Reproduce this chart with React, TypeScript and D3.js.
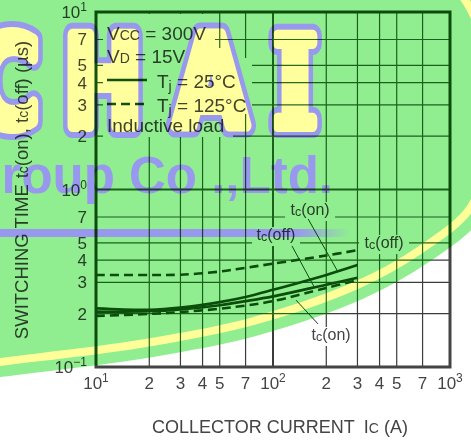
import React from "react";
import * as d3 from "d3";

// ---------- data ----------
const current = [10, 20, 30, 50, 70, 100, 200, 300];
const tcOn25 = [0.214, 0.21, 0.216, 0.232, 0.248, 0.272, 0.33, 0.375];
const tcOff25 = [0.205, 0.206, 0.211, 0.223, 0.235, 0.25, 0.291, 0.318];
const tcOn125 = [0.194, 0.199, 0.204, 0.213, 0.222, 0.235, 0.279, 0.309];
const tcOff125 = [0.33, 0.33, 0.331, 0.345, 0.362, 0.382, 0.425, 0.455];

const xDecades = [10, 100, 1000];
const xDecadeExp = ["1", "2", "3"];
const yDecades = [0.1, 1, 10];
const yDecadeExp = ["\u22121", "0", "1"];
const minorMultipliers = [2, 3, 4, 5, 7];

const W = 471;
const H = 443;
const L = 96, R = 450, T = 12, B = 367;

const x = d3.scaleLog().domain([10, 1000]).range([L, R]);
const y = d3.scaleLog().domain([0.1, 10]).range([B, T]);

const TEXT = "#444";
const FONT = "'Liberation Sans', Arial, sans-serif";

const mkLine = (vals: number[]) =>
  d3
    .line<number>()
    .x((_, i) => x(current[i]))
    .y((d) => y(d))
    .curve(d3.curveCatmullRom.alpha(0.5))(vals) as string;

// annotation positions in data space [Ic, t]
const labels = [
  { sub: "on", at: [162, 0.718], w: 50, leader: [[158, 0.682], [233, 0.343]] },
  { sub: "off", at: [104, 0.519], w: 48, leader: [[128, 0.481], [171, 0.282]] },
  { sub: "off", at: [424, 0.468], w: 50, leader: null },
  { sub: "on", at: [213, 0.142], w: 44, leader: [[179.5, 0.175], [135, 0.238]] },
];

// watermark band edge
const edgePts: [number, number][] = [
  [-30, 366], [0, 362], [120, 347], [180, 337], [250, 322], [357, 285],
  [420, 250], [471, 207], [488, 150], [490, 70], [470, 8], [440, -30],
];

const vGrid: number[] = [];
xDecades.slice(0, 2).forEach((d) => minorMultipliers.forEach((m) => vGrid.push(d * m)));
const hGrid: number[] = [];
yDecades.slice(0, 2).forEach((d) => minorMultipliers.forEach((m) => hGrid.push(d * m)));

type Ink = { grid: string; line: string; frame: string };
const GRAY: Ink = { grid: "#3c3c3c", line: "#2a2a2a", frame: "#444" };
const GREEN: Ink = { grid: "#2e682e", line: "#135213", frame: "#145214" };

function ChartLines({ ink }: { ink: Ink }) {
  return (
    <g>
      <rect x={0} y={0} width={W} height={H} fill="#fff" />
      {vGrid.map((v) => (
        <line key={"v" + v} x1={x(v)} x2={x(v)} y1={T} y2={B} stroke={ink.grid} strokeWidth={1.2} />
      ))}
      <line x1={x(100)} x2={x(100)} y1={T} y2={B} stroke={ink.grid} strokeWidth={2} />
      {hGrid.map((v) => (
        <line key={"h" + v} x1={L} x2={R} y1={y(v)} y2={y(v)} stroke={ink.grid} strokeWidth={1.2} />
      ))}
      <line x1={L} x2={R} y1={y(1)} y2={y(1)} stroke={ink.grid} strokeWidth={2} />

      {/* legend masks */}
      <rect x={103} y={14} width={112} height={123} fill="#fff" />
      <rect x={215} y={48} width={18} height={89} fill="#fff" />
      <rect x={233} y={58} width={19} height={56} fill="#fff" />

      {/* label masks */}
      {labels.map((lb, i) => (
        <rect
          key={"m" + i}
          x={x(lb.at[0]) - lb.w / 2}
          y={y(lb.at[1]) - 13}
          width={lb.w}
          height={19}
          fill="#fff"
        />
      ))}

      <rect x={L} y={T} width={R - L} height={B - T} fill="none" stroke={ink.frame} strokeWidth={3} />

      <path d={mkLine(tcOn25)} fill="none" stroke={ink.line} strokeWidth={2.6} />
      <path d={mkLine(tcOff25)} fill="none" stroke={ink.line} strokeWidth={2.6} />
      <path d={mkLine(tcOn125)} fill="none" stroke={ink.line} strokeWidth={2.6} strokeDasharray="9,5" />
      <path d={mkLine(tcOff125)} fill="none" stroke={ink.line} strokeWidth={2.6} strokeDasharray="9,5" />

      {labels.map((lb, i) =>
        lb.leader ? (
          <line
            key={"ld" + i}
            x1={x(lb.leader[0][0])}
            y1={y(lb.leader[0][1])}
            x2={x(lb.leader[1][0])}
            y2={y(lb.leader[1][1])}
            stroke={ink.line}
            strokeWidth={1}
          />
        ) : null
      )}

      <line x1={107} x2={147} y1={80} y2={80} stroke={ink.line} strokeWidth={2.6} />
      <line x1={107} x2={147} y1={104} y2={104} stroke={ink.line} strokeWidth={2.6} strokeDasharray="9,5" />
    </g>
  );
}

function TcText({ px, py, sub, size = 16 }: { px: number; py: number; sub: string; size?: number }) {
  return (
    <text x={px} y={py} textAnchor="middle" fontSize={size} fill={TEXT}>
      t<tspan fontSize={size * 0.78} dy={1}>c</tspan>
      <tspan dy={-1}>({sub})</tspan>
    </text>
  );
}

export default function App() {
  const edge = d3.line().curve(d3.curveCatmullRom)(edgePts) as string;
  const region = edge + "L-30,-30Z";

  const letters = [
    { ch: "C", cx: 5, fam: "'DejaVu Sans', sans-serif" },
    { ch: "H", cx: 103, fam: "'DejaVu Sans', sans-serif" },
    { ch: "A", cx: 211, fam: "'DejaVu Sans', sans-serif" },
    { ch: "I", cx: 295, fam: "'DejaVu Serif', serif" },
  ];
  const BLUE = "#9898ee";
  const YEL = "#ffff9e";

  return (
    <svg
      width={W}
      height={H}
      style={{ position: "absolute", left: 0, top: 0, fontFamily: FONT }}
    >
      <defs>
        <linearGradient id="barFade" x1="0" x2="1" y1="0" y2="0">
          <stop offset="0.85" stopColor={BLUE} stopOpacity={1} />
          <stop offset="1" stopColor={BLUE} stopOpacity={0} />
        </linearGradient>
        <mask id="insideMask" maskUnits="userSpaceOnUse" x={0} y={0} width={W} height={H}>
          <rect x={0} y={0} width={W} height={H} fill="black" />
          <path d={region} fill="white" stroke="white" strokeWidth={30} strokeLinejoin="round" />
        </mask>
      </defs>

      {/* ---------- chart layer ---------- */}
      <ChartLines ink={GRAY} />
      <g mask="url(#insideMask)">
        <ChartLines ink={GREEN} />
      </g>

      {/* curve labels */}
      {labels.map((lb, i) => (
        <TcText key={"l" + i} px={x(lb.at[0])} py={y(lb.at[1])} sub={lb.sub} />
      ))}

      {/* legend */}
      <g fontSize={19} fill={TEXT}>
        <text x={107} y={40}>
          V<tspan fontSize={14}>CC</tspan> = 300V
        </text>
        <text x={107} y={63}>
          V<tspan fontSize={14}>D</tspan> = 15V
        </text>
        <text x={157} y={88}>
          T<tspan fontSize={14} dy={3}>j</tspan>
          <tspan dy={-3}> = 25°C</tspan>
        </text>
        <text x={157} y={112}>
          T<tspan fontSize={14} dy={3}>j</tspan>
          <tspan dy={-3}> = 125°C</tspan>
        </text>
        <text x={107} y={132}>Inductive load</text>
      </g>

      {/* y tick labels */}
      <g fontSize={17} fill={TEXT} textAnchor="end">
        {yDecades.map((d, i) => (
          <text key={"yd" + d} x={87} y={y(d) + 6}>
            10<tspan fontSize={12} dy={-7}>{yDecadeExp[i]}</tspan>
          </text>
        ))}
        {yDecades.slice(0, 2).map((d) =>
          minorMultipliers.map((m) => (
            <text key={"ym" + d * m} x={87} y={y(d * m) + 6}>
              {m}
            </text>
          ))
        )}
      </g>

      {/* x tick labels */}
      <g fontSize={17} fill={TEXT} textAnchor="middle">
        {xDecades.map((d, i) => (
          <text key={"xd" + d} x={x(d)} y={389}>
            10<tspan fontSize={12} dy={-7}>{xDecadeExp[i]}</tspan>
          </text>
        ))}
        {xDecades.slice(0, 2).map((d) =>
          minorMultipliers.map((m) => (
            <text key={"xm" + d * m} x={x(d * m)} y={389}>
              {m}
            </text>
          ))
        )}
      </g>

      {/* axis titles */}
      <text x={280} y={433} textAnchor="middle" fontSize={18} fill={TEXT}>
        COLLECTOR CURRENT<tspan dx={9}>I</tspan>
        <tspan fontSize={14}>C</tspan> (A)
      </text>
      <text transform="translate(28,190) rotate(-90)" textAnchor="middle" fontSize={18.5} fill={TEXT}>
        SWITCHING TIME<tspan dx={6}>t</tspan>
        <tspan fontSize={14}>c</tspan>(on), t<tspan fontSize={14}>c</tspan>(off) (µs)
      </text>

      {/* ---------- watermark layer (multiplied) ---------- */}
      <g style={{ mixBlendMode: "multiply" }}>
        <path d={region} fill="#90ee90" stroke="#90ee90" strokeWidth={30} strokeLinejoin="round" />
        <path d={edge} fill="none" stroke="#ffff99" strokeWidth={8} />
        {letters.map((lt) => (
          <g key={lt.ch} transform={`translate(${lt.cx},126) scale(0.76,1)`}>
            <text
              x={0}
              y={0}
              textAnchor="middle"
              fontSize={124}
              fontWeight="bold"
              fontFamily={lt.fam}
              fill={BLUE}
              stroke={BLUE}
              strokeWidth={24}
              strokeLinejoin="round"
            >
              {lt.ch}
            </text>
            <text
              x={0}
              y={0}
              textAnchor="middle"
              fontSize={124}
              fontWeight="bold"
              fontFamily={lt.fam}
              fill={YEL}
              stroke={YEL}
              strokeWidth={12}
              strokeLinejoin="round"
            >
              {lt.ch}
            </text>
          </g>
        ))}
        <text
          x={333}
          y={193}
          textAnchor="end"
          fontSize={51}
          fontWeight="bold"
          fontFamily="'Liberation Sans', Arial, sans-serif"
          fill={BLUE}
        >
          Group Co .,Ltd.
        </text>
        <rect x={-5} y={229} width={355} height={8} fill="url(#barFade)" />
      </g>
    </svg>
  );
}
